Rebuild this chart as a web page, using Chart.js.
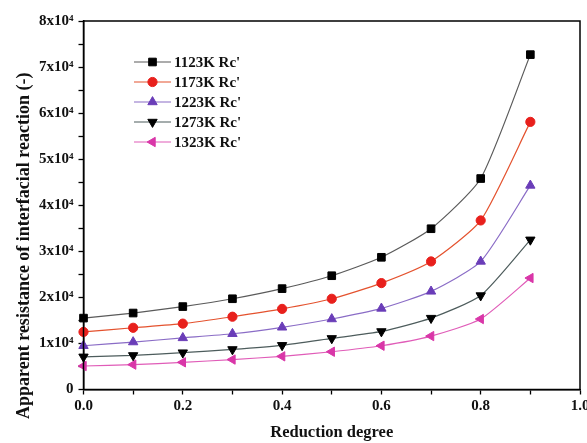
<!DOCTYPE html>
<html>
<head>
<meta charset="utf-8">
<script src="https://cdn.jsdelivr.net/npm/chart.js@4/dist/chart.umd.min.js"></script>
<style>
  html, body { margin: 0; padding: 0; background: #fff; overflow: hidden; }
  #wrap { width: 600px; height: 443px; }
</style>
</head>
<body>
<div id="wrap"><canvas id="chart-canvas"></canvas></div>
<script>
const degrees = [0.0, 0.1, 0.2, 0.3, 0.4, 0.5, 0.6, 0.7, 0.8, 0.9];
const seriesNames = ["1123K Rc'", "1173K Rc'", "1223K Rc'", "1273K Rc'", "1323K Rc'"];
const rc1123 = [15500, 16600, 18000, 19700, 21900, 24700, 28700, 34900, 45800, 72700];
const rc1173 = [12500, 13400, 14300, 15800, 17500, 19700, 23100, 27800, 36700, 58100];
const rc1223 = [9500, 10300, 11200, 12100, 13500, 15300, 17600, 21300, 27800, 44300];
const rc1273 = [7100, 7400, 8000, 8700, 9600, 11100, 12600, 15500, 20400, 32500];
const rc1323 = [5100, 5400, 5900, 6500, 7200, 8200, 9500, 11600, 15300, 24200];
const yTickLabels = ['0', '1x10⁴', '2x10⁴', '3x10⁴', '4x10⁴', '5x10⁴', '6x10⁴', '7x10⁴', '8x10⁴'];
const xTickLabels = ['0.0', '0.2', '0.4', '0.6', '0.8', '1.0'];

const serif = "'Liberation Serif', 'Times New Roman', serif";

function makeSet(label, values, marker, line, style, rotation, radius) {
    return {
        label: label,
        data: values.map((v, i) => ({ x: degrees[i], y: v })),
        borderColor: line,
        borderWidth: 1.2,
        backgroundColor: marker,
        pointBackgroundColor: marker,
        pointBorderColor: marker,
        pointBorderWidth: 1,
        pointStyle: style,
        pointRotation: rotation,
        pointRadius: radius,
        tension: 0.2,
        clip: false
    };
}

const datasets = [
    makeSet(seriesNames[0], rc1123, '#000000', '#5a5a5a', 'rect', 0, 5.4),
    makeSet(seriesNames[1], rc1173, '#e8201c', '#e4522e', 'circle', 0, 4.6),
    makeSet(seriesNames[2], rc1223, '#6a3db8', '#8a6cc6', 'triangle', 0, 5.4),
    makeSet(seriesNames[3], rc1273, '#000000', '#4d5c5c', 'triangle', 180, 5.4),
    makeSet(seriesNames[4], rc1323, '#d936a8', '#e05cb8', 'triangle', 270, 5.4)
];

// box around the plot and the legend inside it
const framePlugin = {
    id: 'frame',
    afterDatasetsDraw(chart) {
        const ctx = chart.ctx;
        const a = chart.chartArea;
        ctx.save();
        ctx.strokeStyle = '#000';
        ctx.lineWidth = 1.5;
        ctx.strokeRect(a.left, a.top, a.right - a.left, a.bottom - a.top);

        chart.data.datasets.forEach((ds, i) => {
            const y = 62 + i * 20;
            ctx.strokeStyle = ds.borderColor;
            ctx.lineWidth = 1.2;
            ctx.beginPath();
            ctx.moveTo(134, y);
            ctx.lineTo(171, y);
            ctx.stroke();
            ctx.fillStyle = ds.pointBackgroundColor;
            ctx.strokeStyle = ds.pointBorderColor;
            ctx.lineWidth = 1;
            Chart.helpers.drawPoint(ctx, {
                pointStyle: ds.pointStyle,
                rotation: ds.pointRotation,
                radius: ds.pointRadius,
                borderWidth: 1
            }, 152.5, y);
            ctx.fillStyle = '#111';
            ctx.font = 'bold 15px ' + serif;
            ctx.textBaseline = 'middle';
            ctx.textAlign = 'left';
            ctx.fillText(ds.label, 174, y + 1);
        });
        ctx.restore();
    }
};

new Chart(document.getElementById('chart-canvas'), {
    type: 'line',
    data: { datasets: datasets },
    options: {
        responsive: true,
        maintainAspectRatio: false,
        animation: false,
        layout: { padding: { left: 8, top: 21, right: 20, bottom: 0 } },
        plugins: {
            legend: { display: false },
            tooltip: { enabled: false }
        },
        scales: {
            x: {
                type: 'linear',
                min: 0,
                max: 1,
                afterFit: s => { s.height = 53.5; },
                grid: { drawOnChartArea: false, tickLength: 5, color: '#000', tickWidth: 1.3 },
                border: { color: '#000', width: 1.5 },
                ticks: {
                    stepSize: 0.1,
                    autoSkip: false,
                    maxRotation: 0,
                    padding: 3,
                    color: '#111',
                    font: { family: serif, size: 15, weight: 'bold' },
                    callback: (v, i) => i % 2 === 0 ? xTickLabels[i / 2] : ''
                },
                title: {
                    display: true,
                    text: 'Reduction degree',
                    color: '#111',
                    padding: { top: 0, bottom: 0 },
                    font: { family: serif, size: 16.5, weight: 'bold' }
                }
            },
            y: {
                min: 0,
                max: 80000,
                afterFit: s => { s.width = 75.5; },
                grid: { drawOnChartArea: false, tickLength: 5, color: '#000', tickWidth: 1.3 },
                border: { color: '#000', width: 1.5 },
                ticks: {
                    stepSize: 5000,
                    autoSkip: false,
                    padding: 5,
                    color: '#111',
                    font: { family: serif, size: 15, weight: 'bold' },
                    callback: v => v % 10000 === 0 ? yTickLabels[v / 10000] : ''
                },
                title: {
                    display: true,
                    text: 'Apparent resistance of interfacial reaction (-)' + '\u00a0'.repeat(18),
                    color: '#111',
                    padding: { top: 6, bottom: 0 },
                    font: { family: serif, size: 18, weight: 'bold' }
                }
            }
        }
    },
    plugins: [framePlugin]
});
</script>
</body>
</html>
